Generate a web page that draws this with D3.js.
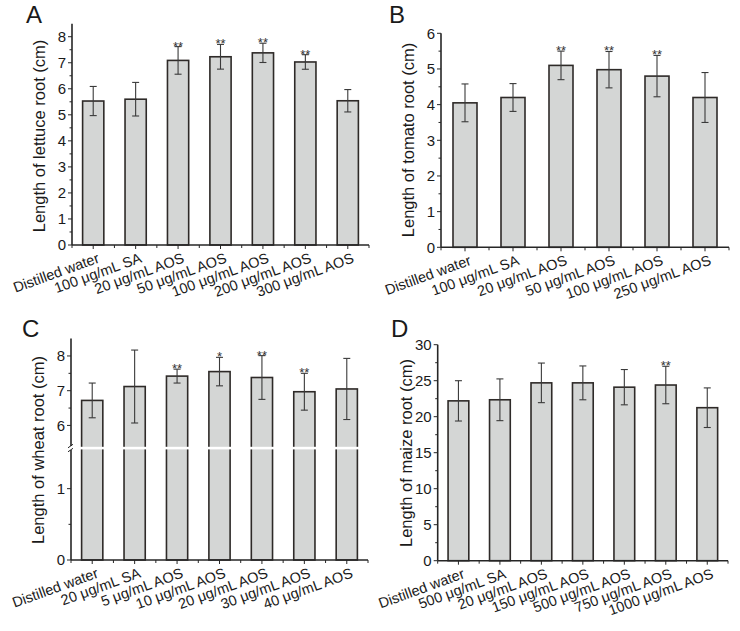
<!DOCTYPE html>
<html><head><meta charset="utf-8">
<script src="https://cdn.jsdelivr.net/npm/d3@7"></script>
<style>
body{margin:0;background:#fff;}
text{font-family:"Liberation Sans",Arial,sans-serif;fill:#1a1a1a;}
</style></head>
<body><svg id="c" width="740" height="631"></svg>
<script>
// ---------- data ----------
const catsA = ["Distilled water","100 μg/mL SA","20 μg/mL AOS","50 μg/mL AOS","100 μg/mL AOS","200 μg/mL AOS","300 μg/mL AOS"];
const meanA = [5.53,5.60,7.09,7.23,7.38,7.03,5.54];
const errA  = [0.56,0.645,0.53,0.475,0.37,0.28,0.43];
const sigA  = ["","","**","**","**","**",""];
const ticksA = [0,1,2,3,4,5,6,7,8];

const catsB = ["Distilled water","100 μg/mL SA","20 μg/mL AOS","50 μg/mL AOS","100 μg/mL AOS","250 μg/mL AOS"];
const meanB = [4.05,4.20,5.10,4.98,4.80,4.20];
const errB  = [0.53,0.39,0.40,0.51,0.58,0.70];
const sigB  = ["","","**","**","**",""];
const ticksB = [0,1,2,3,4,5,6];

const catsC = ["Distilled water","20 μg/mL SA","5 μg/mL AOS","10 μg/mL AOS","20 μg/mL AOS","30 μg/mL AOS","40 μg/mL AOS"];
const meanC = [6.72,7.12,7.42,7.55,7.38,6.97,7.05];
const errC  = [0.50,1.05,0.20,0.41,0.63,0.53,0.88];
const sigC  = ["","","**","*","**","**",""];
const ticksCLow = [0,1];
const ticksCHigh = [6,7,8];

const catsD = ["Distilled water","500 μg/mL SA","20 μg/mL AOS","150 μg/mL AOS","500 μg/mL AOS","750 μg/mL AOS","1000 μg/mL AOS"];
const meanD = [22.2,22.35,24.7,24.7,24.1,24.4,21.25];
const errD  = [2.8,2.9,2.75,2.35,2.45,2.6,2.75];
const sigD  = ["","","","","","**",""];
const ticksD = [0,5,10,15,20,25,30];

// ---------- drawing ----------
const svg = d3.select("#c");
const INK = "#262626";

function panel(o){
  const g = svg.append("g");
  const x = d3.scaleBand().domain(o.cats).range([o.x0,o.x1]).paddingInner(0.5).paddingOuter(0.25);
  const y = o.y; // value -> pixel
  const step = x.step();
  // bars
  g.selectAll("rect.bar").data(o.mean).enter().append("rect")
    .attr("x",(d,i)=>x(o.cats[i])).attr("width",x.bandwidth())
    .attr("y",d=>y(d)).attr("height",d=>o.yBase-y(d))
    .attr("fill","#d4d6d5").attr("stroke","#2e2a28").attr("stroke-width",1.6);
  // break band (panel C)
  if(o.breakY){
    g.append("rect").attr("x",o.x0+1).attr("width",o.x1-o.x0).attr("y",o.breakY-1.2).attr("height",2.6).attr("fill","#fff");
  }
  // error bars
  const cw = 3.5;
  o.mean.forEach((m,i)=>{
    const cx = x(o.cats[i])+x.bandwidth()/2;
    const hi = y(m+o.err[i]), lo = y(m-o.err[i]);
    g.append("line").attr("x1",cx).attr("x2",cx).attr("y1",hi).attr("y2",lo).attr("stroke","#3a3a3a").attr("stroke-width",1.1);
    g.append("line").attr("x1",cx-cw).attr("x2",cx+cw).attr("y1",hi).attr("y2",hi).attr("stroke","#3a3a3a").attr("stroke-width",1.1);
    g.append("line").attr("x1",cx-cw).attr("x2",cx+cw).attr("y1",lo).attr("y2",lo).attr("stroke","#3a3a3a").attr("stroke-width",1.1);
    if(o.sig[i]) g.append("text").attr("x",cx).attr("y",hi+4).attr("text-anchor","middle")
      .style("font-size","13px").style("fill","#333").text(o.sig[i]);
  });
  // x axis
  const xa = d3.axisBottom(x).tickSize(4).tickFormat("");
  const xg = g.append("g").attr("transform",`translate(0,${o.yBase})`).call(xa);
  xg.select(".domain").attr("d",`M${o.x0},0H${o.x1}`).attr("stroke",INK).attr("stroke-width",1.6);
  xg.selectAll(".tick line").attr("stroke",INK).attr("stroke-width",1);
  // minor x ticks at band boundaries
  d3.range(o.cats.length+1).forEach(i=>{
    xg.append("line").attr("x1",o.x0+i*step).attr("x2",o.x0+i*step).attr("y1",0).attr("y2",3).attr("stroke",INK).attr("stroke-width",1);
  });
  // x labels
  g.selectAll("text.xl").data(o.cats).enter().append("text")
    .attr("transform",d=>`translate(${x(d)+x.bandwidth()/2+7},${o.yBase+17}) rotate(-20)`)
    .attr("text-anchor","end").style("font-size","14.5px").text(d=>d);
  // y axis
  const yl = g.append("g");
  o.ySegs.forEach(s=>{
    yl.append("line").attr("x1",o.x0).attr("x2",o.x0).attr("y1",s[0]).attr("y2",s[1]).attr("stroke",INK).attr("stroke-width",1.6);
  });
  o.ticks.forEach(t=>{
    yl.append("line").attr("x1",o.x0-4).attr("x2",o.x0).attr("y1",y(t)).attr("y2",y(t)).attr("stroke",INK).attr("stroke-width",1);
    yl.append("text").attr("x",o.x0-6).attr("y",y(t)).attr("dy","0.36em").attr("text-anchor","end").style("font-size","15px").text(t);
  });
  (o.minor||[]).forEach(t=>{
    yl.append("line").attr("x1",o.x0-2.5).attr("x2",o.x0).attr("y1",y(t)).attr("y2",y(t)).attr("stroke",INK).attr("stroke-width",1);
  });
  if(o.breakY){
    [-2.2,1.8].forEach(dy=>{
      yl.append("line").attr("x1",o.x0-3).attr("x2",o.x0+2).attr("y1",o.breakY+dy+2).attr("y2",o.breakY+dy-1.5).attr("stroke",INK).attr("stroke-width",1);
    });
  }
  // y title
  g.append("text").attr("transform",`translate(${o.titleX},${o.titleY}) rotate(-90)`)
    .attr("text-anchor","middle").style("font-size","16.5px").text(o.title);
  // letter
  g.append("text").attr("x",o.lx).attr("y",o.ly).style("font-size","24px").text(o.letter);
}

// A
const yA = d3.scaleLinear().domain([0,8.5]).range([245,23.7]);
panel({cats:catsA,mean:meanA,err:errA,sig:sigA,ticks:ticksA,minor:d3.range(0.5,8.5,1),
  x0:72,x1:369,y:yA,yBase:245,ySegs:[[245,23.7]],title:"Length of lettuce root (cm)",titleX:45,titleY:136,letter:"A",lx:26,ly:23});

// B
const yB = d3.scaleLinear().domain([0,6]).range([247.3,33.3]);
panel({cats:catsB,mean:meanB,err:errB,sig:sigB,ticks:ticksB,minor:d3.range(0.5,6,1),
  x0:441,x1:729,y:yB,yBase:247.3,ySegs:[[247.3,33.3]],title:"Length of tomato root (cm)",titleX:414,titleY:140,letter:"B",lx:389,ly:23});

// C (broken axis)
const yCLow = d3.scaleLinear().domain([0,1.57]).range([560,448]);
const yCHigh = d3.scaleLinear().domain([5.35,8.5]).range([448,338.6]);
const yC = v => v<=1.57 ? yCLow(v) : yCHigh(v);
panel({cats:catsC,mean:meanC,err:errC,sig:sigC,ticks:ticksCLow.concat(ticksCHigh),minor:[0.5,6.5,7.5],
  x0:71,x1:368,y:yC,yBase:560,ySegs:[[560,450],[446,338.6]],breakY:448,title:"Length of wheat root (cm)",titleX:44,titleY:450,letter:"C",lx:22,ly:337});

// D
const yD = d3.scaleLinear().domain([0,30]).range([560.7,344.7]);
panel({cats:catsD,mean:meanD,err:errD,sig:sigD,ticks:ticksD,minor:d3.range(2.5,30,5),
  x0:437.7,x1:728,y:yD,yBase:560.7,ySegs:[[560.7,344.7]],title:"Length of maize root (cm)",titleX:412,titleY:453,letter:"D",lx:391,ly:337});
</script></body></html>
